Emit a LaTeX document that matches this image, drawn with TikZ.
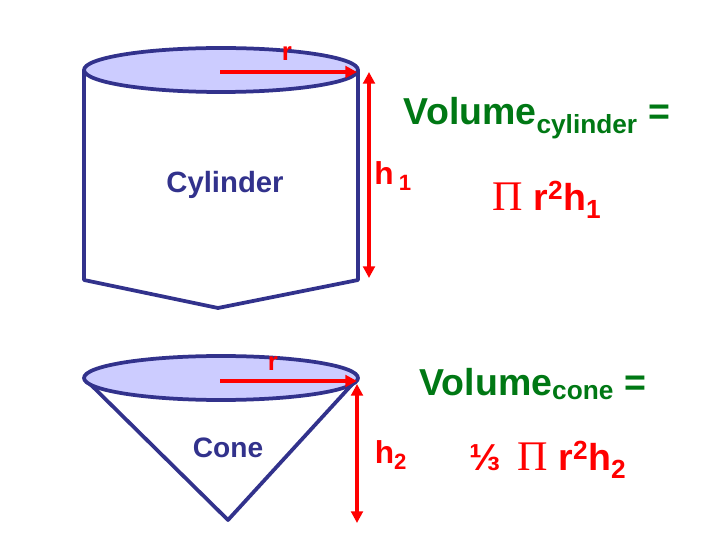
\documentclass[tikz,border=0pt]{standalone}
\usepackage{fontspec}
\setmainfont{Liberation Sans}
\newfontfamily\pifont{Liberation Serif}
\usetikzlibrary{arrows.meta, positioning}
\begin{document}
\begin{tikzpicture}[x=0.03cm, y=-0.03cm,
    solid/.style = {line width=3.2pt, line join=round},
    lid/.style = {solid, fill=blue!20},
    measure/.style = {draw=red, line width=2.6pt, -{Triangle[length=10pt,width=10pt]}},
    tag/.style = {font=\bfseries\fontsize{22}{26}\selectfont},
    formula/.style = {font=\bfseries\fontsize{32}{36}\selectfont}
]
\useasboundingbox (0,0) rectangle (720,540);
\definecolor{shapeblue}{RGB}{50,50,140}
\definecolor{formgreen}{RGB}{0,120,20}

% Cylinder
\draw[solid, draw=shapeblue, fill=white] (84,70) -- (84,280) -- (218,308) -- (358,280) -- (358,70);
\draw[lid, draw=shapeblue] (221,70) ellipse (137 and 22);
\coordinate (cylc) at (220,72);
\coordinate (cylr) at (357,72);
\coordinate (htop) at (369,72);
\coordinate (hbot) at (369,278);
\draw[measure] (cylc) -- (cylr);
\draw[measure, {Triangle[length=10pt,width=10pt]}-{Triangle[length=10pt,width=10pt]}] (htop) -- (hbot);
\node[tag, text=red] (rone) at (287,54) {r};
\node[tag, text=red, font=\bfseries\fontsize{27}{30}\selectfont] (hone) at (393,176) {h\,\textsubscript{1}};
\node[tag, text=shapeblue, font=\bfseries\fontsize{25}{28}\selectfont] (cyllabel) at (225,185) {Cylinder};

% Cone
\draw[solid, draw=shapeblue] (84,378) -- (228,520) -- (358,378);
\draw[lid, draw=shapeblue] (221,378) ellipse (137 and 22);
\coordinate (conc) at (220,381);
\coordinate (conr) at (357,381);
\coordinate (ctop) at (357,384);
\coordinate (cbot) at (357,523);
\draw[measure] (conc) -- (conr);
\draw[measure, {Triangle[length=10pt,width=10pt]}-{Triangle[length=10pt,width=10pt]}] (ctop) -- (cbot);
\node[tag, text=red] (rtwo) at (273,364) {r};
\node[tag, text=red, font=\bfseries\fontsize{27}{30}\selectfont] (htwo) at (391,455) {h\textsubscript{2}};
\node[tag, text=shapeblue, font=\bfseries\fontsize{24}{28}\selectfont] (conlabel) at (228,448) {Cone};

% Formulas
\node[formula, text=formgreen] (volcyl) at (537,118) {Volume\textsubscript{cylinder} =};
\node[formula, text=red] (formcyl) at (547,200) {{\pifont\mdseries\fontsize{36}{38}\selectfont Π} r\textsuperscript{2}h\textsubscript{1}};
\node[formula, text=formgreen] (volcone) at (533,384) {Volume\textsubscript{cone} =};
\node[formula, text=red] (formcone) at (548,460) {⅓ \,{\pifont\mdseries\fontsize{36}{38}\selectfont Π} r\textsuperscript{2}h\textsubscript{2}};
\end{tikzpicture}
\end{document}
